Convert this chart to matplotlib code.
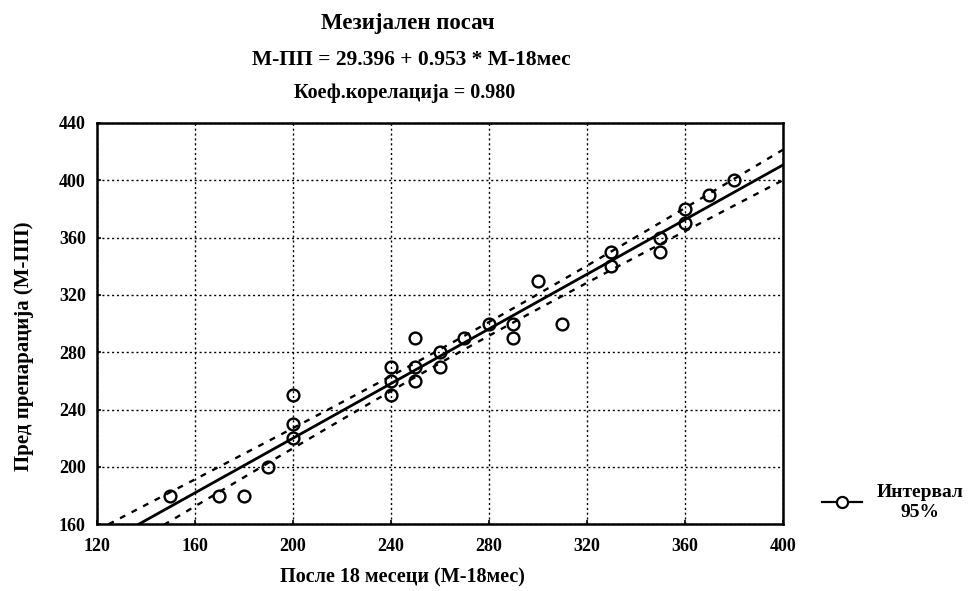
import numpy as np
import matplotlib
matplotlib.use("Agg")
import matplotlib.pyplot as plt
from matplotlib.lines import Line2D

plt.rcParams['font.family'] = ['Liberation Serif', 'DejaVu Serif']
plt.rcParams['font.weight'] = 'bold'

# Measurements: after 18 months (x) vs. before preparation (y)
m18 = [150, 170, 180, 190, 200, 200, 200, 240, 240, 240, 250, 250, 250, 260, 260,
       270, 280, 290, 290, 300, 310, 330, 330, 350, 350, 360, 360, 370, 380]
mpp = [180, 180, 180, 200, 250, 230, 220, 270, 260, 250, 290, 270, 260, 280, 270,
       290, 300, 300, 290, 330, 300, 350, 340, 360, 350, 380, 370, 390, 400]

intercept = 29.396
slope = 0.953
corr = 0.980

x_ticks = [120, 160, 200, 240, 280, 320, 360, 400]
y_ticks = [160, 200, 240, 280, 320, 360, 400, 440]

x = np.array(m18, dtype=float)
y = np.array(mpp, dtype=float)
n = len(x)

# Regression line and 95% confidence band for the mean
xs = np.linspace(120, 400, 200)
ys = intercept + slope * xs
resid = y - (intercept + slope * x)
s = np.sqrt(np.sum(resid ** 2) / (n - 2))
sxx = np.sum((x - x.mean()) ** 2)
t_crit = 2.052
half = t_crit * s * np.sqrt(1.0 / n + (xs - x.mean()) ** 2 / sxx)

fig = plt.figure(figsize=(9.7, 5.91), dpi=100)
ax = fig.add_axes([0.100, 0.113, 0.707, 0.679])

ax.plot(xs, ys, color='black', lw=2.0, zorder=3)
ax.plot(xs, ys + half, color='black', lw=1.7, ls=(0, (2.5, 3)), zorder=3)
ax.plot(xs, ys - half, color='black', lw=1.7, ls=(0, (2.5, 3)), zorder=3)
ax.plot(x, y, ls='none', marker='o', ms=8.5, mfc='none', mec='black', mew=1.7, zorder=4)

ax.set_xlim(120, 400)
ax.set_ylim(160, 440)
ax.set_xticks(x_ticks)
ax.set_yticks(y_ticks)
ax.grid(True, color='black', ls=(0, (1.5, 2)), lw=1.0)
ax.tick_params(direction='in', length=3, width=1.2, labelsize=13)
ax.tick_params(axis='x', pad=10)
ax.tick_params(axis='y', pad=8)
for lab in ax.get_xticklabels() + ax.get_yticklabels():
    lab.set_fontweight('bold')
for sp in ax.spines.values():
    sp.set_linewidth(1.8)

ax.set_xlabel('После 18 месеци (М-18мес)', fontsize=14.5, fontweight='bold')
ax.set_ylabel('Пред препарација (М-ПП)', fontsize=15, fontweight='bold')
ax.xaxis.label.set_verticalalignment('center')
ax.yaxis.label.set_verticalalignment('center')
ax.xaxis.set_label_coords(0.445, -0.132)
ax.yaxis.set_label_coords(-0.106, 0.444)

fig.text(0.42, 1 - 23 / 591, 'Мезијален посач', ha='center', va='center',
         fontsize=16.5, fontweight='bold')
fig.text(0.424, 1 - 60 / 591, 'М-ПП = %.3f + %.3f * М-18мес' % (intercept, slope),
         ha='center', va='center', fontsize=15.5, fontweight='bold')
fig.text(0.417, 1 - 93 / 591, 'Коеф.корелација = %.3f' % corr, ha='center', va='center',
         fontsize=14.5, fontweight='bold')

handle = Line2D([], [], color='black', lw=1.6, marker='o', ms=8, mfc='white', mec='black', mew=1.6)
leg = fig.legend([handle], ['Интервал\n95%'], loc='center left', bbox_to_anchor=(0.847, 0.150),
                 frameon=False, fontsize=14, handlelength=2.1, handletextpad=0.75,
                 borderpad=0, borderaxespad=0)
for t in leg.get_texts():
    t.set_multialignment('center')
    t.set_fontweight('bold')

fig.savefig('out.png', dpi=100)
